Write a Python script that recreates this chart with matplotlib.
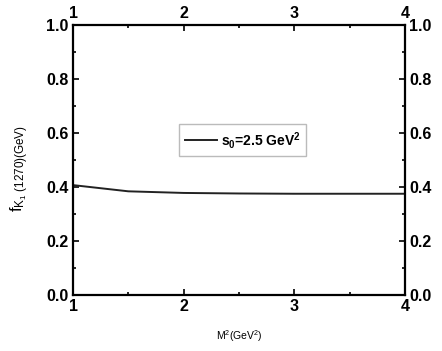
import matplotlib
matplotlib.use("Agg")
import matplotlib.pyplot as plt
from matplotlib.ticker import MultipleLocator

plt.rcParams['font.family'] = ['Liberation Sans', 'DejaVu Sans']
plt.rcParams['font.weight'] = 'bold'
plt.rcParams['mathtext.fontset'] = 'custom'
plt.rcParams['mathtext.rm'] = 'Liberation Sans:bold'
plt.rcParams['mathtext.it'] = 'Liberation Sans:bold'
plt.rcParams['mathtext.bf'] = 'Liberation Sans:bold'

M2 = [1.0, 1.5, 2.0, 2.5, 3.0, 3.5, 4.0]
fK = [0.407, 0.384, 0.378, 0.376, 0.375, 0.375, 0.375]
label = r'$\mathregular{s_0}$=2.5 GeV$\mathregular{^2}$'

fig = plt.figure(figsize=(4.42, 3.51), dpi=100)
ax = fig.add_axes([73/442, 1-295/351, 332/442, 270/351])
ax.plot(M2, fK, color='#222222', lw=1.4, label=label)
ax.set_xlim(1, 4)
ax.set_ylim(0, 1.0)
ax.xaxis.set_major_locator(MultipleLocator(1))
ax.xaxis.set_minor_locator(MultipleLocator(0.5))
ax.yaxis.set_major_locator(MultipleLocator(0.2))
ax.yaxis.set_minor_locator(MultipleLocator(0.1))
ax.yaxis.set_major_formatter(matplotlib.ticker.FormatStrFormatter('%.1f'))
ax.tick_params(which='both', direction='in', top=True, right=True,
               labeltop=True, labelright=True, labelsize=11.5, width=1.2, pad=3)
ax.tick_params(which='major', length=4)
ax.tick_params(which='minor', length=2.5)
for s in ax.spines.values():
    s.set_linewidth(1.6)

ax.set_xlabel(r'M$\mathregular{^2}$(GeV$\mathregular{^2}$)', fontsize=7.5, labelpad=10)
ax.set_ylabel(r'$\mathregular{f_{K_1\ (1270)(GeV)}}$', fontsize=12)
ax.yaxis.set_label_coords(-0.125, 0.47)

leg = ax.legend(loc='upper left', bbox_to_anchor=(106/332, 1-99/270), fontsize=10,
                frameon=True, fancybox=False, edgecolor='#aaaaaa', handlelength=2.3,
                handletextpad=0.3, borderpad=0.4, borderaxespad=0)
leg.get_frame().set_linewidth(1.0)

fig.savefig('out.png', dpi=100)
